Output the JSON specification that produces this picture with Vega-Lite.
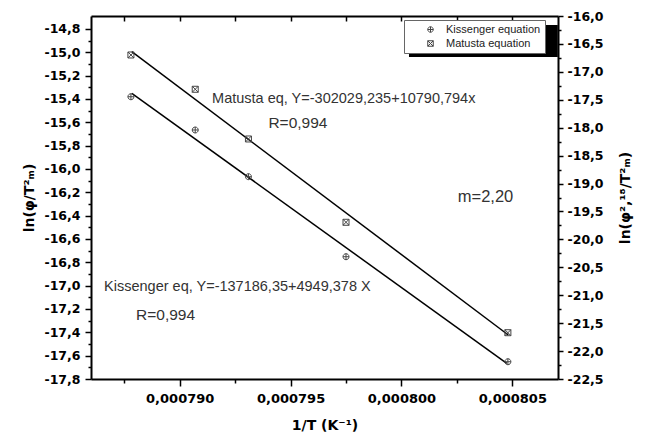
{
  "$schema": "https://vega.github.io/schema/vega-lite/v6.json",
  "width": 467,
  "height": 363,
  "autosize": {"type": "none"},
  "padding": {"left": 91, "top": 16, "right": 96, "bottom": 62},
  "background": "white",
  "config": {
    "locale": {"number": {"decimal": ",", "thousands": ".", "grouping": [3], "currency": ["", ""], "minus": "-"}},
    "view": {"stroke": null},
    "axis": {
      "grid": false,
      "domainColor": "black",
      "domainWidth": 2,
      "tickColor": "black",
      "tickWidth": 1.5,
      "labelFont": "DejaVu Sans",
      "labelFontWeight": "bold",
      "labelFontSize": 12.5,
      "labelColor": "black",
      "labelOverlap": false,
      "labelFlush": false,
      "titleFont": "DejaVu Sans",
      "titleFontWeight": "bold",
      "titleFontSize": 14,
      "titleColor": "black"
    }
  },
  "datasets": {
    "kiss": [
      {"invT": 0.0007878, "lnv": -15.381, "series": "Kissenger equation"},
      {"invT": 0.0007907, "lnv": -15.666, "series": "Kissenger equation"},
      {"invT": 0.0007931, "lnv": -16.066, "series": "Kissenger equation"},
      {"invT": 0.0007975, "lnv": -16.752, "series": "Kissenger equation"},
      {"invT": 0.0008048, "lnv": -17.652, "series": "Kissenger equation"}
    ],
    "mat": [
      {"invT": 0.0007878, "lnv": -16.698, "series": "Matusta equation"},
      {"invT": 0.0007907, "lnv": -17.312, "series": "Matusta equation"},
      {"invT": 0.0007931, "lnv": -18.202, "series": "Matusta equation"},
      {"invT": 0.0007975, "lnv": -19.694, "series": "Matusta equation"},
      {"invT": 0.0008048, "lnv": -21.671, "series": "Matusta equation"}
    ],
    "kissFit": [
      {"invT": 0.00078784, "lnv": -15.352},
      {"invT": 0.00080475, "lnv": -17.666}
    ],
    "matFit": [
      {"invT": 0.00078784, "lnv": -16.639},
      {"invT": 0.00080482, "lnv": -21.712}
    ],
    "notes": [
      {"invT": 0.00079146, "lnv": -15.40, "text": "Matusta eq, Y=-302029,235+10790,794x", "kind": "eq"},
      {"invT": 0.000794, "lnv": -15.606, "text": "R=0,994", "kind": "R"},
      {"invT": 0.00080254, "lnv": -16.24, "text": "m=2,20", "kind": "m"},
      {"invT": 0.00078659, "lnv": -17.01, "text": "Kissenger eq, Y=-137186,35+4949,378 X", "kind": "eq"},
      {"invT": 0.00078803, "lnv": -17.25, "text": "R=0,994", "kind": "R"}
    ],
    "shadow": [
      {"invT": 0.00080034, "invT2": 0.00080705, "lnv": -14.766, "lnv2": -15.04}
    ]
  },
  "layer": [
    {
      "encoding": {
        "x": {
          "field": "invT",
          "type": "quantitative",
          "scale": {"domain": [0.000786, 0.00080706], "nice": false, "zero": false},
          "axis": {
            "orient": "bottom",
            "title": "1/T (K⁻¹)",
            "values": [0.0007875, 0.00079, 0.0007925, 0.000795, 0.0007975, 0.0008, 0.0008025, 0.000805],
            "labelExpr": "abs(datum.value*200000 - round(datum.value*200000)) < 0.01 ? format(datum.value, '.6f') : ''",
            "tickSize": {"condition": {"test": "abs(datum.value*200000 - round(datum.value*200000)) < 0.01", "value": 7}, "value": 4},
            "labelPadding": 6,
            "titlePadding": 13,
            "labelFontSize": 13
          }
        },
        "y": {
          "field": "lnv",
          "type": "quantitative",
          "scale": {"domain": [-17.8, -14.689], "nice": false, "zero": false},
          "axis": {
            "orient": "left",
            "title": "ln(φ/T²ₘ)",
            "values": [-17.8,-17.7,-17.6,-17.5,-17.4,-17.3,-17.2,-17.1,-17.0,-16.9,-16.8,-16.7,-16.6,-16.5,-16.4,-16.3,-16.2,-16.1,-16.0,-15.9,-15.8,-15.7,-15.6,-15.5,-15.4,-15.3,-15.2,-15.1,-15.0,-14.9,-14.8],
            "labelExpr": "abs(datum.value*5 - round(datum.value*5)) < 0.01 ? format(datum.value, '.1f') : ''",
            "tickSize": {"condition": {"test": "abs(datum.value*5 - round(datum.value*5)) < 0.01", "value": 6}, "value": 3},
            "labelPadding": 5,
            "titlePadding": 7
          }
        }
      },
      "layer": [
        {
          "data": {"name": "shadow"},
          "mark": {"type": "rect", "color": "black"},
          "encoding": {
            "x2": {"field": "invT2"},
            "y2": {"field": "lnv2"}
          }
        },
        {
          "data": {"name": "kissFit"},
          "mark": {"type": "line", "color": "black", "strokeWidth": 1.5}
        },
        {
          "data": {"name": "kiss"},
          "mark": {"type": "point", "filled": false, "color": "#444444", "size": 36, "strokeWidth": 1, "opacity": 1},
          "encoding": {
            "shape": {
              "field": "series",
              "type": "nominal",
              "scale": {
                "domain": ["Kissenger equation", "Matusta equation"],
                "range": ["M-1,0A1,1,0,1,1,1,0A1,1,0,1,1,-1,0ZM-1,0L1,0M0,-1L0,1", "M-1,-1L1,-1L1,1L-1,1ZM-1,-1L1,1M-1,1L1,-1"]
              },
              "legend": {
                "title": null,
                "orient": "none",
                "legendX": 313,
                "legendY": 4,
                "fillColor": "white",
                "strokeColor": "#666666",
                "padding": 4,
                "rowPadding": 2,
                "symbolOffset": 17,
                "labelOffset": 10,
                "labelFont": "Liberation Sans",
                "labelFontSize": 11,
                "labelColor": "#222222",
                "labelExpr": "datum.label + '\u00a0\u00a0\u00a0\u00a0\u00a0'",
                "symbolSize": 30,
                "symbolStrokeColor": "#444444",
                "symbolFillColor": "transparent",
                "symbolStrokeWidth": 1
              }
            }
          }
        },
        {
          "data": {"name": "notes"},
          "mark": {"type": "text", "align": "left", "baseline": "middle", "font": "Liberation Sans", "color": "#333333"},
          "encoding": {
            "text": {"field": "text"},
            "size": {
              "field": "kind",
              "type": "ordinal",
              "scale": {"domain": ["eq", "R", "m"], "range": [14.5, 16.5, 15]},
              "legend": null
            }
          }
        }
      ]
    },
    {
      "encoding": {
        "x": {
          "field": "invT",
          "type": "quantitative",
          "scale": {"domain": [0.000786, 0.00080706], "nice": false, "zero": false},
          "axis": {
            "orient": "top",
            "title": null,
            "labels": false,
            "values": [0.0007875, 0.00079, 0.0007925, 0.000795, 0.0007975, 0.0008, 0.0008025, 0.000805],
            "tickSize": -5
          }
        },
        "y": {
          "field": "lnv",
          "type": "quantitative",
          "scale": {"domain": [-22.5, -16.0], "nice": false, "zero": false},
          "axis": {
            "orient": "right",
            "title": "ln(φ²,¹⁸/T²ₘ)",
            "titleAngle": 270,
            "titleBaseline": "top",
            "values": [-22.5,-22.25,-22,-21.75,-21.5,-21.25,-21,-20.75,-20.5,-20.25,-20,-19.75,-19.5,-19.25,-19,-18.75,-18.5,-18.25,-18,-17.75,-17.5,-17.25,-17,-16.75,-16.5,-16.25,-16],
            "labelExpr": "abs(datum.value*2 - round(datum.value*2)) < 0.01 ? format(datum.value, '.1f') : ''",
            "tickSize": {"condition": {"test": "abs(datum.value*2 - round(datum.value*2)) < 0.01", "value": 5}, "value": 3},
            "labelPadding": 4,
            "titlePadding": 15
          }
        }
      },
      "layer": [
        {
          "data": {"name": "matFit"},
          "mark": {"type": "line", "color": "black", "strokeWidth": 1.5}
        },
        {
          "data": {"name": "mat"},
          "mark": {"type": "point", "filled": false, "color": "#444444", "size": 36, "strokeWidth": 1, "opacity": 1},
          "encoding": {
            "shape": {
              "field": "series",
              "type": "nominal",
              "scale": {
                "domain": ["Kissenger equation", "Matusta equation"],
                "range": ["M-1,0A1,1,0,1,1,1,0A1,1,0,1,1,-1,0ZM-1,0L1,0M0,-1L0,1", "M-1,-1L1,-1L1,1L-1,1ZM-1,-1L1,1M-1,1L1,-1"]
              },
              "legend": {
                "title": null,
                "orient": "none",
                "legendX": 313,
                "legendY": 4,
                "fillColor": "white",
                "strokeColor": "#666666",
                "padding": 4,
                "rowPadding": 2,
                "symbolOffset": 17,
                "labelOffset": 10,
                "labelFont": "Liberation Sans",
                "labelFontSize": 11,
                "labelColor": "#222222",
                "labelExpr": "datum.label + '\u00a0\u00a0\u00a0\u00a0\u00a0'",
                "symbolSize": 30,
                "symbolStrokeColor": "#444444",
                "symbolFillColor": "transparent",
                "symbolStrokeWidth": 1
              }
            }
          }
        }
      ]
    }
  ],
  "resolve": {"scale": {"y": "independent"}, "axis": {"x": "independent"}}
}
